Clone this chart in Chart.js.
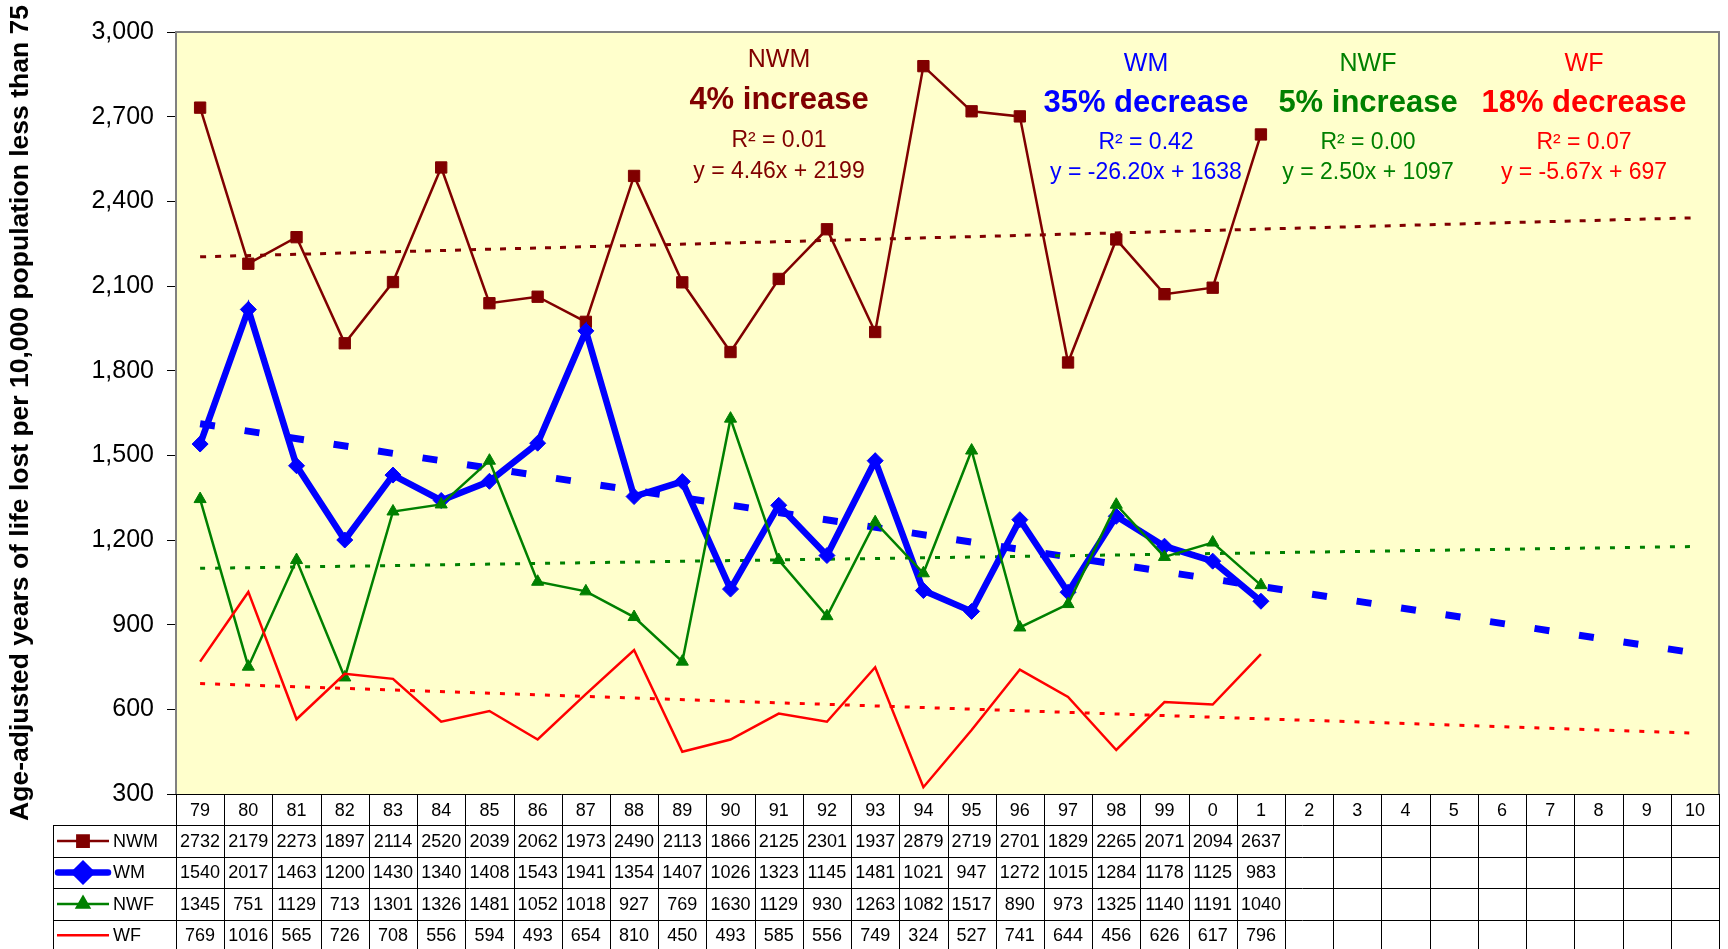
<!DOCTYPE html>
<html>
<head>
<meta charset="utf-8">
<script src="https://cdn.jsdelivr.net/npm/chart.js@4/dist/chart.umd.min.js"></script>
<style>
  html, body { margin: 0; padding: 0; background: #ffffff; }
  #wrap { width: 1728px; height: 949px; position: relative; }
</style>
</head>
<body>
<div id="wrap"><canvas id="c" width="1728" height="949"></canvas></div>
<script>
// ---------- data ----------
const years = ['79','80','81','82','83','84','85','86','87','88','89','90','91','92','93','94','95','96','97','98','99','0','1','2','3','4','5','6','7','8','9','10'];
const seriesNames = ['NWM', 'WM', 'NWF', 'WF'];
const nwm = [2732,2179,2273,1897,2114,2520,2039,2062,1973,2490,2113,1866,2125,2301,1937,2879,2719,2701,1829,2265,2071,2094,2637];
const wm  = [1540,2017,1463,1200,1430,1340,1408,1543,1941,1354,1407,1026,1323,1145,1481,1021,947,1272,1015,1284,1178,1125,983];
const nwf = [1345,751,1129,713,1301,1326,1481,1052,1018,927,769,1630,1129,930,1263,1082,1517,890,973,1325,1140,1191,1040];
const wf  = [769,1016,565,726,708,556,594,493,654,810,450,493,585,556,749,324,527,741,644,456,626,617,796];
const trendSlope = [4.46, -26.20, 2.50, -5.67];
const trendIntercept = [2199, 1638, 1097, 697];
const rSquared = ['0.01', '0.42', '0.00', '0.07'];
const changeText = ['4% increase', '35% decrease', '5% increase', '18% decrease'];
const yTicks = [300, 600, 900, 1200, 1500, 1800, 2100, 2400, 2700, 3000];
const yTitle = 'Age-adjusted years of life lost per 10,000 population less than 75';

// ---------- styles ----------
const FONT = '"Liberation Sans", Arial, sans-serif';
const colors = ['#800000', '#0000FF', '#008000', '#FF0000'];
const seriesData = [nwm, wm, nwf, wf];

// trendline endpoints from the displayed equations (x = 1 .. number of categories)
function trendPoints(k) {
  const n = years.length;
  return [
    { x: years[0], y: trendSlope[k] * 1 + trendIntercept[k] },
    { x: years[n - 1], y: trendSlope[k] * n + trendIntercept[k] }
  ];
}

const datasets = [
  { label: 'NWM', data: nwm, borderColor: colors[0], backgroundColor: colors[0], borderWidth: 2.5,
    pointStyle: 'rect', pointRadius: 8, pointBorderWidth: 1, order: 4 },
  { label: 'WM', data: wm, borderColor: colors[1], backgroundColor: colors[1], borderWidth: 6.5,
    pointStyle: 'rectRot', pointRadius: 8, pointBorderWidth: 1, order: 3 },
  { label: 'NWF', data: nwf, borderColor: colors[2], backgroundColor: colors[2], borderWidth: 2.5,
    pointStyle: 'triangle', pointRadius: 7, pointBorderWidth: 1, order: 2 },
  { label: 'WF', data: wf, borderColor: colors[3], backgroundColor: colors[3], borderWidth: 2.5,
    pointRadius: 0, order: 1 },
  { label: 'NWM trend', data: trendPoints(0), borderColor: colors[0], borderWidth: 3, borderDash: [6, 9],
    pointRadius: 0, order: 8 },
  { label: 'WM trend', data: trendPoints(1), borderColor: colors[1], borderWidth: 7, borderDash: [15, 30],
    pointRadius: 0, order: 7 },
  { label: 'NWF trend', data: trendPoints(2), borderColor: colors[2], borderWidth: 3, borderDash: [5, 10],
    pointRadius: 0, order: 6 },
  { label: 'WF trend', data: trendPoints(3), borderColor: colors[3], borderWidth: 3, borderDash: [5, 10],
    pointRadius: 0, order: 5 }
];
datasets.forEach(d => { d.tension = 0; d.fill = false; d.borderCapStyle = 'butt'; d.borderJoinStyle = 'miter'; });

// ---------- plugins ----------
const plotBg = {
  id: 'plotBg',
  beforeDraw(chart) {
    const { ctx, chartArea: a } = chart;
    ctx.save();
    ctx.fillStyle = '#FFFFCC';
    ctx.fillRect(a.left, a.top, a.right - a.left, a.bottom - a.top);
    ctx.restore();
  },
  afterDatasetsDraw(chart) {
    const { ctx, chartArea: a } = chart;
    ctx.save();
    ctx.strokeStyle = '#808080';
    ctx.lineWidth = 2;
    ctx.beginPath();
    ctx.moveTo(a.left, a.bottom);
    ctx.lineTo(a.left, a.top);
    ctx.lineTo(a.right, a.top);
    ctx.lineTo(a.right, a.bottom);
    ctx.stroke();
    ctx.restore();
  }
};

const annotations = {
  id: 'annotations',
  afterDatasetsDraw(chart) {
    const { ctx } = chart;
    const cx = [779, 1146, 1368, 1584];
    const ys = [[60, 100, 141, 172], [64, 103, 143, 173], [64, 103, 143, 173], [64, 103, 143, 173]];
    ctx.save();
    ctx.textAlign = 'center';
    ctx.textBaseline = 'middle';
    for (let k = 0; k < 4; k++) {
      ctx.fillStyle = colors[k];
      ctx.font = '25px ' + FONT;
      ctx.fillText(seriesNames[k], cx[k], ys[k][0]);
      ctx.font = 'bold 31px ' + FONT;
      ctx.fillText(changeText[k], cx[k], ys[k][1]);
      ctx.font = '23px ' + FONT;
      ctx.fillText('R\u00B2 = ' + rSquared[k], cx[k], ys[k][2]);
      const s = trendSlope[k];
      const eq = 'y = ' + (s < 0 ? '-' : '') + Math.abs(s).toFixed(2) + 'x + ' + trendIntercept[k];
      ctx.fillText(eq, cx[k], ys[k][3]);
    }
    ctx.restore();
  }
};

const dataTable = {
  id: 'dataTable',
  afterDraw(chart) {
    const { ctx, chartArea: a } = chart;
    const xs = chart.scales.x;
    const n = years.length;
    const colW = (a.right - a.left) / n;
    const top = a.bottom;
    const rowH = 31.4;
    const rows = 5;
    const bottom = top + rowH * rows;
    const legLeft = 53;
    ctx.save();
    ctx.strokeStyle = '#000000';
    ctx.lineWidth = 1;
    for (let i = 0; i <= n; i++) {
      const x = Math.round(a.left + i * colW) + 0.5;
      ctx.beginPath();
      ctx.moveTo(x, top);
      ctx.lineTo(x, bottom);
      ctx.stroke();
    }
    for (let r = 0; r <= rows; r++) {
      const y = Math.round(top + r * rowH) + 0.5;
      ctx.beginPath();
      ctx.moveTo(r === 0 ? a.left : legLeft, y);
      ctx.lineTo(a.right, y);
      ctx.stroke();
    }
    ctx.beginPath();
    ctx.moveTo(legLeft + 0.5, Math.round(top + rowH) + 0.5);
    ctx.lineTo(legLeft + 0.5, bottom);
    ctx.stroke();
    ctx.fillStyle = '#000';
    ctx.font = '18px ' + FONT;
    ctx.textAlign = 'center';
    ctx.textBaseline = 'middle';
    for (let i = 0; i < n; i++) {
      ctx.fillText(years[i], xs.getPixelForValue(i), top + rowH / 2 + 1);
    }
    for (let k = 0; k < 4; k++) {
      const yc = top + rowH * (k + 1) + rowH / 2 + 1;
      const d = seriesData[k];
      ctx.fillStyle = '#000';
      ctx.textAlign = 'center';
      for (let i = 0; i < d.length; i++) {
        ctx.fillText(String(d[i]), xs.getPixelForValue(i), yc);
      }
      ctx.save();
      ctx.strokeStyle = colors[k];
      ctx.fillStyle = colors[k];
      ctx.lineWidth = datasets[k].borderWidth;
      ctx.lineCap = k === 1 ? 'round' : 'butt';
      ctx.beginPath();
      ctx.moveTo(k === 1 ? 58 : 57, yc - 1);
      ctx.lineTo(k === 1 ? 108 : 109, yc - 1);
      ctx.stroke();
      if (datasets[k].pointRadius > 0) {
        Chart.helpers.drawPoint(ctx, {
          pointStyle: datasets[k].pointStyle,
          radius: datasets[k].pointRadius,
          borderWidth: 1,
          rotation: 0
        }, 83, yc - 1);
        ctx.fill();
      }
      ctx.restore();
      ctx.fillStyle = '#000';
      ctx.textAlign = 'left';
      ctx.fillText(seriesNames[k], 113, yc);
    }
    ctx.restore();
  }
};

// ---------- chart ----------
new Chart(document.getElementById('c'), {
  type: 'line',
  data: { labels: years, datasets },
  options: {
    responsive: false,
    animation: false,
    events: [],
    layout: { padding: { left: 0, right: 3, top: 32, bottom: 155 } },
    plugins: { legend: { display: false }, tooltip: { enabled: false } },
    scales: {
      x: {
        type: 'category',
        offset: true,
        display: false,
        grid: { display: false }
      },
      y: {
        min: 300,
        max: 3000,
        afterFit(axis) { axis.width = 176; },
        afterBuildTicks(axis) { axis.ticks = yTicks.map(v => ({ value: v })); },
        ticks: {
          color: '#000',
          padding: 13,
          font: { family: FONT, size: 25 },
          callback: v => Number(v).toLocaleString('en-US')
        },
        grid: { drawOnChartArea: false, drawTicks: true, tickLength: 9, color: '#000', tickColor: '#000' },
        border: { display: true, color: '#000', width: 1 },
        title: {
          display: true,
          text: yTitle,
          color: '#000',
          font: { family: FONT, size: 26.5, weight: 'bold' },
          padding: { top: 5, bottom: 0 }
        }
      }
    }
  },
  plugins: [plotBg, annotations, dataTable]
});
</script>
</body>
</html>
